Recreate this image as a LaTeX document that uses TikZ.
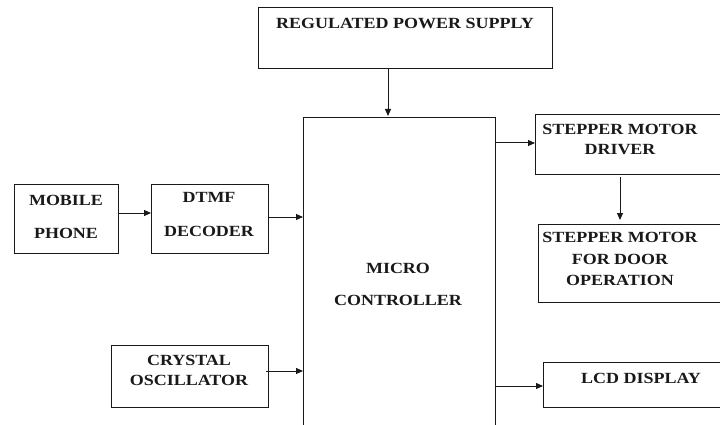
\documentclass[tikz,border=0pt]{standalone}
\usepackage{fontspec}
\setmainfont{Liberation Serif}[FakeStretch=1.16]
\usetikzlibrary{arrows.meta}
\tikzset{
  blk/.style={draw=black!90, line width=1pt, rectangle, inner sep=0pt, anchor=north west},
  lbl/.style={font=\fontsize{15.5}{15.5}\selectfont\bfseries, text=black!90, inner sep=0pt, align=center},
  arr/.style={draw=black!90, line width=1pt, -{Triangle[length=7pt,width=6pt]}},
}
\begin{document}
\begin{tikzpicture}[x=1pt,y=-1pt]
\clip (0,0) rectangle (720,425);
\fill[white] (0,0) rectangle (720,425);
% boxes
\node[blk, minimum width=294, minimum height=61] (rps) at (258,7) {};
\node[blk, minimum width=192, minimum height=320] (mc) at (303,117) {};
\node[blk, minimum width=104, minimum height=69] (mob) at (14,184) {};
\node[blk, minimum width=117, minimum height=69] (dtmf) at (151,184) {};
\node[blk, minimum width=157, minimum height=62] (xtal) at (111,345) {};
\node[blk, minimum width=200, minimum height=60] (smd) at (535,114) {};
\node[blk, minimum width=200, minimum height=78] (smo) at (538,224) {};
\node[blk, minimum width=200, minimum height=45] (lcd) at (543,362) {};
% texts
\node[lbl] (trps) at (405,23) {REGULATED POWER SUPPLY};
\node[lbl] (tmc1) at (398,268) {MICRO};
\node[lbl] (tmc2) at (398,300) {CONTROLLER};
\node[lbl] (tmob1) at (66,200) {MOBILE};
\node[lbl] (tmob2) at (66,233) {PHONE};
\node[lbl] (tdt1) at (209,197) {DTMF};
\node[lbl] (tdt2) at (209,231) {DECODER};
\node[lbl] (tx1) at (189,360) {CRYSTAL};
\node[lbl] (tx2) at (189,380) {OSCILLATOR};
\node[lbl] (tsd1) at (620,129) {STEPPER MOTOR};
\node[lbl] (tsd2) at (620,150) {DRIVER};
\node[lbl] (tso1) at (620,237) {STEPPER MOTOR};
\node[lbl] (tso2) at (620,259) {FOR DOOR};
\node[lbl] (tso3) at (620,280) {OPERATION};
\node[lbl] (tlcd) at (641,378) {LCD DISPLAY};
% connectors
\coordinate (a1) at (388,68);
\coordinate (a2) at (388,116);
\draw[arr] (a1) -- (a2);
\coordinate (b1) at (118,213);
\coordinate (b2) at (151,213);
\draw[arr] (b1) -- (b2);
\coordinate (c1) at (268,217);
\coordinate (c2) at (303,217);
\draw[arr] (c1) -- (c2);
\coordinate (d1) at (266,371);
\coordinate (d2) at (303,371);
\draw[arr] (d1) -- (d2);
\coordinate (e1) at (495,143);
\coordinate (e2) at (535,143);
\draw[arr] (e1) -- (e2);
\coordinate (f1) at (620,177);
\coordinate (f2) at (620,220);
\draw[arr] (f1) -- (f2);
\coordinate (g1) at (495,386);
\coordinate (g2) at (543,386);
\draw[arr] (g1) -- (g2);
\end{tikzpicture}
\end{document}
